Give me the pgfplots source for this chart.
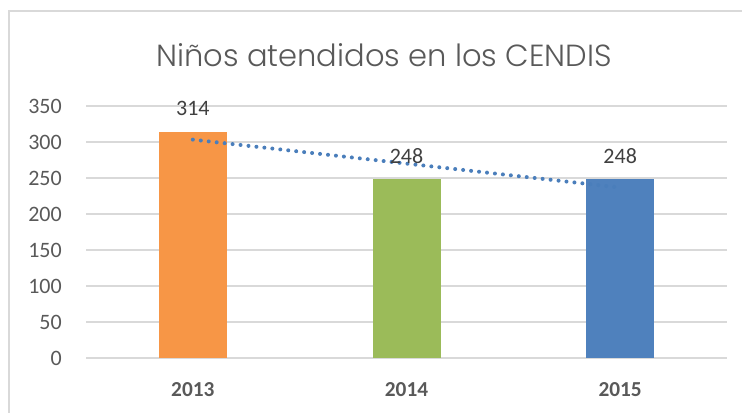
\documentclass[border=0pt]{standalone}
\usepackage{fontspec}
\setmainfont{Carlito}
\newfontfamily\titlefont{Poppins Light}
\usepackage{pgfplots}
\pgfplotsset{compat=1.18}
\definecolor{gridc}{HTML}{D9D9D9}
\definecolor{txt}{HTML}{595959}
\definecolor{lab}{HTML}{404040}
\definecolor{c13}{HTML}{F79646}
\definecolor{c14}{HTML}{9BBB59}
\definecolor{c15}{HTML}{4F81BD}
\definecolor{trend}{HTML}{4A7EBB}
\begin{document}
\begin{tikzpicture}
\useasboundingbox (0pt,0pt) rectangle (556.5pt,309.75pt);
\draw[gridc, line width=1.1pt] (6.75pt,0pt) -- (6.75pt,301.5pt) -- (556.5pt,301.5pt);
\node[txt, font=\titlefont\fontsize{22.9}{26}\selectfont, anchor=base] at (288pt,259.5pt) {Niños atendidos en los CENDIS};
\begin{axis}[
  at={(64.5pt,41.25pt)}, anchor=south west,
  scale only axis, width=480.75pt, height=189pt,
  xmin=-0.5, xmax=2.5, ymin=0, ymax=350,
  ytick={0,50,...,350},
  xtick={0,1,2}, xticklabels={2013,2014,2015},
  axis line style={draw=none},
  major tick length=0pt,
  ymajorgrids, grid style={gridc, line width=1.1pt},
  yticklabel style={font=\fontsize{16.5}{18}\selectfont, text=txt, anchor=east, inner sep=0pt, xshift=-18pt},
  xticklabel style={font=\bfseries\fontsize{16}{18}\selectfont, text=txt, anchor=center, inner sep=0pt, yshift=-24pt},
  /pgf/number format/assume math mode=true,
  clip=false,
  nodes near coords,
  every node near coord/.append style={font=\fontsize{16.5}{18}\selectfont, text=lab, anchor=south, inner sep=0pt, yshift=12pt},
]
\addplot[ybar, bar width=51pt, fill=c13, draw=none] coordinates {(0,314)};
\addplot[ybar, bar width=51pt, fill=c14, draw=none] coordinates {(1,248)};
\addplot[ybar, bar width=51pt, fill=c15, draw=none] coordinates {(2,248)};
\addplot[trend, line width=3pt, line cap=round, dash pattern=on 0pt off 6pt, nodes near coords={}, no marks] coordinates {(0,303.3) (1,270) (2,236.7)};
\end{axis}
\end{tikzpicture}
\end{document}
